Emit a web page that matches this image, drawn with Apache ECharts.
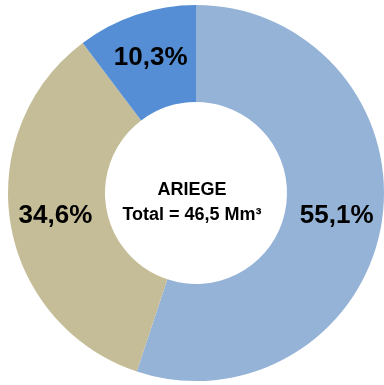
<!DOCTYPE html>
<html><head><meta charset="utf-8">
<script src="https://cdn.jsdelivr.net/npm/echarts@6/dist/echarts.min.js"></script>
<style>html,body{margin:0;padding:0;background:#fff}#c{width:384px;height:385px}</style>
</head><body><div id="c"></div>
<script>
const categories = ['A', 'B', 'C'];
const values = [55.1, 34.6, 10.3];
const colors = ['#95B3D7', '#C4BD97', '#558ED5'];
const centerTitle = 'ARIEGE';
const centerTotal = 'Total = 46,5 Mm³';

const chart = echarts.init(document.getElementById('c'));
chart.setOption({
  animation: false,
  graphic: [
    { type: 'text', left: 'center', top: 181, style: { text: centerTitle, font: 'bold 18px "Liberation Sans", Arial', fill: '#000' } },
    { type: 'text', left: 'center', top: 206, style: { text: centerTotal, font: 'bold 18px "Liberation Sans", Arial', fill: '#000' } }
  ],
  series: [{
    type: 'pie',
    center: [196, 193],
    radius: [91, 188],
    startAngle: 90,
    clockwise: true,
    silent: true,
    label: {
      position: 'inside',
      formatter: p => p.value.toFixed(1).replace('.', ',') + '%',
      fontFamily: '"Liberation Sans", Arial',
      fontWeight: 'bold',
      fontSize: 26,
      color: '#000'
    },
    labelLine: { show: false },
    data: categories.map((c, i) => ({ name: c, value: values[i], itemStyle: { color: colors[i] } }))
  }]
});
</script></body></html>
